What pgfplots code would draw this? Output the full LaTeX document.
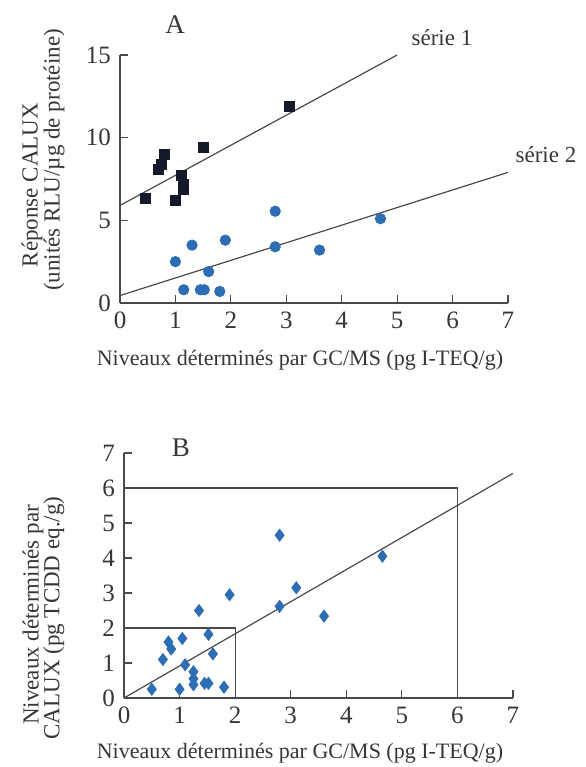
\documentclass[border=0pt]{standalone}
\usepackage{fontspec}
\setmainfont{Liberation Serif}
\usepackage{pgfplots}
\pgfplotsset{compat=1.18}
\definecolor{ink}{HTML}{3A3535}
\definecolor{linec}{HTML}{4F4848}
\definecolor{sq}{HTML}{151A2A}
\definecolor{bl}{HTML}{2C6DB4}
\begin{document}
\begin{tikzpicture}
\path[use as bounding box] (0,0) rectangle (292.5pt,383.5pt);
\pgfplotsset{every axis/.append style={
  scale only axis, axis lines=left,
  axis line style={-, draw=linec, line width=0.6pt},
  tick align=inside, major tick length=4pt,
  tick style={draw=linec, line width=0.6pt},
  tick label style={font=\fontsize{12.5}{13}\selectfont, text=ink},
  xticklabel style={yshift=-1pt},
  yticklabel style={xshift=-1pt},
  /pgf/number format/assume math mode=true,
  clip=false,
}}
% ---------- Panel A ----------
\begin{axis}[at={(60pt,232pt)}, anchor=south west,
  width=194pt, height=124pt,
  xmin=0, xmax=7, ymin=0, ymax=15,
  xtick={0,1,...,7}, ytick={0,5,10,15}]
\addplot[linec, line width=0.6pt] coordinates {(0,5.9) (5.0,15.0)};
\addplot[linec, line width=0.6pt] coordinates {(0,0.45) (7,7.9)};
\addplot[only marks, mark=square*, mark size=2.5pt, color=sq] coordinates {
 (0.45,6.3) (0.7,8.1) (0.75,8.4) (0.8,9.0) (1.0,6.2) (1.1,7.7)
 (1.15,7.2) (1.15,6.9) (1.5,9.4) (3.05,11.9)};
\addplot[only marks, mark=*, mark size=2.6pt, color=bl] coordinates {
 (1.0,2.5) (1.15,0.8) (1.3,3.5) (1.45,0.8) (1.52,0.8) (1.6,1.9)
 (1.8,0.7) (1.9,3.8) (2.8,5.55) (2.8,3.4) (3.6,3.2) (4.7,5.1)};
\end{axis}
% ---------- Panel B ----------
\begin{axis}[at={(62pt,34.5pt)}, anchor=south west,
  width=194.5pt, height=122.5pt,
  xmin=0, xmax=7, ymin=0, ymax=7,
  xtick={0,1,...,7}, ytick={0,1,...,7}]
\addplot[linec, line width=0.6pt] coordinates {(0,6) (6,6) (6,0)};
\addplot[linec, line width=0.6pt] coordinates {(0,2) (2,2) (2,0)};
\addplot[linec, line width=0.6pt] coordinates {(0,0) (7,6.42)};
\addplot[only marks, mark=diamond*, mark size=3pt, color=bl] coordinates {
 (0.5,0.25) (0.7,1.1) (0.8,1.6) (0.85,1.4) (1.05,1.7) (1.0,0.25)
 (1.1,0.95) (1.25,0.75) (1.25,0.55) (1.25,0.38) (1.35,2.5) (1.45,0.42)
 (1.52,0.42) (1.52,1.82) (1.6,1.26) (1.8,0.31) (1.9,2.95) (2.8,4.65)
 (2.8,2.62) (3.1,3.15) (3.6,2.34) (4.65,4.05)};
\end{axis}
% ---------- texts ----------
\begin{scope}[every node/.style={text=ink, inner sep=0pt}]
\node[font=\fontsize{13.5}{14}\selectfont] at (87.5pt,371pt) {A};
\node[font=\fontsize{13.5}{14}\selectfont] at (90.5pt,159.5pt) {B};
\node[font=\fontsize{11.5}{12}\selectfont] at (221pt,364.5pt) {série 1};
\node[font=\fontsize{11.5}{12}\selectfont] at (273pt,306pt) {série 2};
\node[font=\fontsize{11}{12}\selectfont] at (150pt,203.5pt) {Niveaux déterminés par GC/MS (pg I-TEQ/g)};
\node[font=\fontsize{11}{12}\selectfont] at (150pt,7pt) {Niveaux déterminés par GC/MS (pg I-TEQ/g)};
\node[font=\fontsize{11.5}{12}\selectfont, rotate=90] at (16pt,291pt) {Réponse CALUX};
\node[font=\fontsize{11.5}{12}\selectfont, rotate=90] at (27pt,303.5pt) {(unités RLU/µg de protéine)};
\node[font=\fontsize{11.5}{12}\selectfont, rotate=90] at (16.5pt,76pt) {Niveaux déterminés par};
\node[font=\fontsize{11.5}{12}\selectfont, rotate=90] at (27pt,74.5pt) {CALUX (pg TCDD eq./g)};
\end{scope}
\end{tikzpicture}
\end{document}
